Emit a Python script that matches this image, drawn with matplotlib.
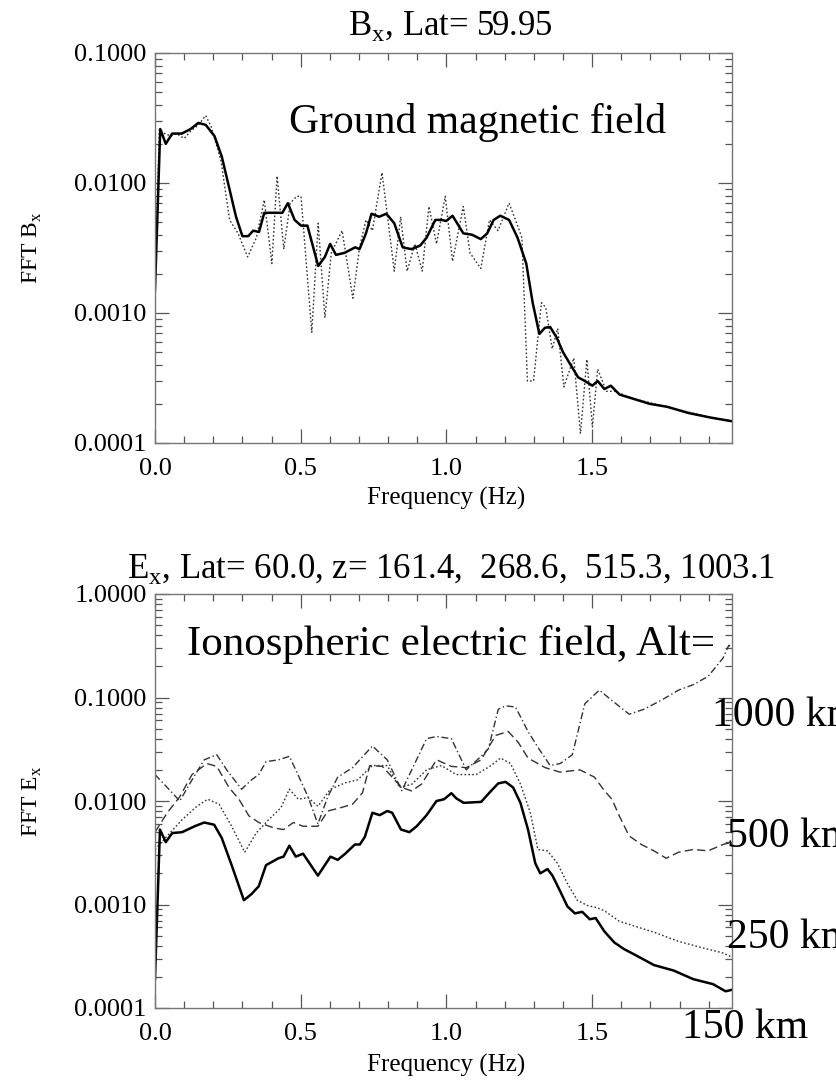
import numpy as np
import matplotlib
matplotlib.use("Agg")
import matplotlib.pyplot as plt
from matplotlib.ticker import FixedLocator, MultipleLocator, LogLocator, NullFormatter, FixedFormatter

plt.rcParams['font.family'] = ['Liberation Serif', 'DejaVu Serif']
plt.rcParams['mathtext.fontset'] = 'custom'
plt.rcParams['mathtext.rm'] = 'Liberation Serif'

# ---------------- ground magnetic field spectrum (B_x) ----------------
bx_freq_solid = [0.000, 0.018, 0.037, 0.059, 0.092, 0.122, 0.149, 0.174, 0.204, 0.229,
                 0.256, 0.278, 0.300, 0.320, 0.337, 0.357, 0.375, 0.404, 0.437, 0.456,
                 0.479, 0.501, 0.523, 0.560, 0.583, 0.601, 0.621, 0.650, 0.687, 0.702,
                 0.724, 0.743, 0.769, 0.794, 0.821, 0.850, 0.880, 0.910, 0.932, 0.962,
                 0.984, 0.999, 1.021, 1.058, 1.088, 1.118, 1.140, 1.162, 1.185, 1.215,
                 1.244, 1.274, 1.296, 1.319, 1.338, 1.356, 1.378, 1.400, 1.423, 1.452,
                 1.475, 1.501, 1.519, 1.542, 1.564, 1.594, 1.638, 1.698, 1.757, 1.831,
                 1.906, 1.980]
bx_fft_solid = [0.0015, 0.026, 0.020, 0.024, 0.024, 0.026, 0.029, 0.028, 0.023, 0.016,
                0.0089, 0.0055, 0.0039, 0.0039, 0.0043, 0.0042, 0.0059, 0.0059, 0.0059, 0.0070,
                0.0052, 0.0047, 0.0047, 0.0023, 0.0027, 0.0034, 0.0028, 0.0029, 0.0032, 0.0031,
                0.0041, 0.0058, 0.0055, 0.0058, 0.0049, 0.0032, 0.0031, 0.0033, 0.0038, 0.0052,
                0.0052, 0.0051, 0.0056, 0.0041, 0.0040, 0.0037, 0.0041, 0.0052, 0.0056, 0.0052,
                0.0038, 0.0024, 0.0012, 0.00069, 0.00077, 0.00078, 0.00065, 0.00050, 0.00041, 0.00032,
                0.00030, 0.000276, 0.00030, 0.00026, 0.000276, 0.000236, 0.00022, 0.00020, 0.00019, 0.00017,
                0.000157, 0.000147]

bx_freq_dot = [0.000, 0.015, 0.033, 0.055, 0.074, 0.100, 0.122, 0.149, 0.174, 0.193,
               0.226, 0.256, 0.285, 0.318, 0.348, 0.375, 0.401, 0.419, 0.442, 0.464,
               0.486, 0.501, 0.538, 0.560, 0.583, 0.605, 0.642, 0.679, 0.702, 0.724,
               0.746, 0.779, 0.798, 0.821, 0.843, 0.865, 0.892, 0.917, 0.940, 0.966,
               0.996, 1.021, 1.058, 1.081, 1.118, 1.148, 1.177, 1.215, 1.237, 1.259,
               1.278, 1.299, 1.326, 1.341, 1.363, 1.382, 1.403, 1.437, 1.460, 1.482,
               1.501, 1.519, 1.549, 1.579, 1.638, 1.757, 1.906, 1.980]
bx_fft_dot = [0.0015, 0.026, 0.024, 0.023, 0.024, 0.022, 0.025, 0.028, 0.033, 0.027,
              0.015, 0.0052, 0.0041, 0.0027, 0.0038, 0.0074, 0.0024, 0.0113, 0.0031, 0.0070,
              0.0079, 0.0079, 0.00071, 0.0049, 0.00092, 0.0029, 0.0043, 0.0013, 0.0032, 0.0052,
              0.0043, 0.012, 0.0055, 0.0021, 0.0055, 0.0021, 0.0034, 0.0021, 0.0066, 0.0034,
              0.0079, 0.0025, 0.0066, 0.0029, 0.0022, 0.0052, 0.0043, 0.0070, 0.0052, 0.0038,
              0.00030, 0.00030, 0.0012, 0.0011, 0.00053, 0.00076, 0.00027, 0.00045, 0.000118, 0.00044,
              0.000133, 0.00037, 0.00025, 0.00025, 0.00022, 0.00019, 0.000157, 0.000147]

# ---------------- ionospheric electric field spectra (E_x) ----------------
ex150_freq = [0.000, 0.017, 0.037, 0.059, 0.093, 0.136, 0.169, 0.203, 0.229, 0.263,
              0.305, 0.331, 0.356, 0.381, 0.424, 0.441, 0.461, 0.483, 0.508, 0.559,
              0.602, 0.627, 0.653, 0.686, 0.703, 0.720, 0.746, 0.771, 0.797, 0.814,
              0.844, 0.873, 0.898, 0.932, 0.966, 0.992, 1.017, 1.034, 1.059, 1.119,
              1.153, 1.178, 1.203, 1.229, 1.254, 1.280, 1.305, 1.322, 1.347, 1.364,
              1.390, 1.415, 1.441, 1.466, 1.492, 1.512, 1.542, 1.576, 1.610, 1.644,
              1.712, 1.780, 1.847, 1.915, 1.958, 1.980]
ex150_fft = [0.00019, 0.0053, 0.0040, 0.0049, 0.0050, 0.0057, 0.0062, 0.0059, 0.0044, 0.0024,
             0.0011, 0.00126, 0.0015, 0.0024, 0.0028, 0.0029, 0.0037, 0.0029, 0.0031, 0.0019,
             0.0029, 0.0027, 0.0031, 0.0038, 0.0038, 0.0045, 0.0077, 0.0073, 0.0080, 0.0077,
             0.0053, 0.0050, 0.0057, 0.0073, 0.0100, 0.0104, 0.0119, 0.0106, 0.0096, 0.0098,
             0.0125, 0.0148, 0.0153, 0.0135, 0.0096, 0.0053, 0.0025, 0.0020, 0.0022, 0.0019,
             0.00135, 0.00096, 0.00082, 0.00085, 0.00072, 0.00074, 0.00055, 0.00043, 0.00037, 0.00033,
             0.00026, 0.00023, 0.00019, 0.00017, 0.000145, 0.00015]

ex250_freq = [0.000, 0.042, 0.093, 0.144, 0.181, 0.220, 0.263, 0.308, 0.347, 0.390,
              0.432, 0.461, 0.492, 0.525, 0.559, 0.602, 0.653, 0.695, 0.746, 0.797,
              0.839, 0.881, 0.932, 0.983, 1.034, 1.102, 1.153, 1.186, 1.220, 1.254,
              1.288, 1.314, 1.347, 1.381, 1.415, 1.449, 1.483, 1.517, 1.542, 1.593,
              1.644, 1.712, 1.797, 1.881, 1.949, 1.980]
ex250_fft = [0.0034, 0.0046, 0.0066, 0.0089, 0.0104, 0.0093, 0.0057, 0.0032, 0.0049, 0.0066,
             0.0086, 0.0130, 0.0104, 0.0108, 0.0089, 0.0130, 0.0150, 0.0160, 0.0220, 0.0220,
             0.0135, 0.0145, 0.0200, 0.0220, 0.0180, 0.0180, 0.0220, 0.0260, 0.0230, 0.0146,
             0.0077, 0.0034, 0.0033, 0.0025, 0.0016, 0.0011, 0.00098, 0.00093, 0.00087, 0.00069,
             0.00062, 0.00054, 0.00044, 0.00038, 0.00034, 0.00031]

ex500_freq = [0.000, 0.042, 0.085, 0.127, 0.178, 0.212, 0.254, 0.288, 0.322, 0.356,
              0.407, 0.441, 0.475, 0.508, 0.559, 0.593, 0.636, 0.678, 0.712, 0.737,
              0.780, 0.814, 0.847, 0.881, 0.915, 0.966, 1.017, 1.068, 1.119, 1.169,
              1.212, 1.246, 1.280, 1.339, 1.390, 1.458, 1.508, 1.542, 1.568, 1.593,
              1.627, 1.669, 1.712, 1.754, 1.797, 1.847, 1.898, 1.949, 1.980]
ex500_fft = [0.0050, 0.0077, 0.0110, 0.0180, 0.0230, 0.0216, 0.0135, 0.0104, 0.0072, 0.0062,
             0.0055, 0.0053, 0.0062, 0.0057, 0.0057, 0.0080, 0.0086, 0.0093, 0.0120, 0.0220,
             0.0216, 0.0170, 0.0135, 0.0125, 0.0146, 0.0250, 0.0216, 0.0210, 0.0250, 0.0430,
             0.0470, 0.0370, 0.0260, 0.0210, 0.0190, 0.0200, 0.0170, 0.0126, 0.0104, 0.0072,
             0.0046, 0.0038, 0.0033, 0.0028, 0.0032, 0.0034, 0.0033, 0.0038, 0.0040]

ex1000_freq = [0.000, 0.042, 0.085, 0.127, 0.169, 0.212, 0.246, 0.297, 0.331, 0.356,
               0.381, 0.424, 0.461, 0.483, 0.525, 0.559, 0.593, 0.627, 0.678, 0.746,
               0.797, 0.847, 0.881, 0.932, 0.966, 1.017, 1.068, 1.119, 1.144, 1.178,
               1.203, 1.237, 1.280, 1.314, 1.356, 1.390, 1.432, 1.475, 1.525, 1.559,
               1.627, 1.678, 1.737, 1.797, 1.847, 1.898, 1.949, 1.969, 1.980]
ex1000_fft = [0.018, 0.0135, 0.0100, 0.016, 0.025, 0.028, 0.020, 0.013, 0.016, 0.018,
              0.024, 0.025, 0.027, 0.020, 0.011, 0.0060, 0.011, 0.017, 0.021, 0.034,
              0.025, 0.0126, 0.020, 0.040, 0.042, 0.040, 0.020, 0.027, 0.032, 0.077,
              0.083, 0.081, 0.047, 0.033, 0.022, 0.023, 0.028, 0.087, 0.118, 0.098,
              0.069, 0.077, 0.094, 0.118, 0.133, 0.160, 0.240, 0.320, 0.300]

x_major = [0.0, 0.5, 1.0, 1.5]
x_major_labels = ['0.0', '0.5', '1.0', '1.5']
f_max = 1.98

W, H = 836, 1081
fig = plt.figure(figsize=(W / 100, H / 100), dpi=100)


def px_axes(x0, y0, x1, y1):
    return fig.add_axes([x0 / W, 1 - y1 / H, (x1 - x0) / W, (y1 - y0) / H])


def fig_text(x, y, s, **kw):
    fig.text(x / W, 1 - y / H, s, **kw)


def style_axes(ax, ymin, ymax, ylabels):
    ax.set_xlim(0, f_max)
    ax.set_yscale('log')
    ax.set_ylim(ymin, ymax)
    ax.xaxis.set_major_locator(FixedLocator(x_major))
    ax.xaxis.set_major_formatter(FixedFormatter(x_major_labels))
    ax.xaxis.set_minor_locator(MultipleLocator(0.1))
    decades = [10.0 ** k for k in range(int(np.log10(ymin)), int(np.log10(ymax)) + 1)]
    ax.yaxis.set_major_locator(FixedLocator(decades))
    ax.yaxis.set_major_formatter(FixedFormatter(ylabels))
    ax.yaxis.set_minor_locator(LogLocator(base=10, subs=np.arange(2, 10)))
    ax.yaxis.set_minor_formatter(NullFormatter())
    ax.tick_params(which='both', direction='in', top=True, right=True,
                   color='#555555', width=0.9, labelsize=19, labelcolor='black')
    ax.tick_params(which='major', length=10)
    ax.tick_params(which='minor', length=5)
    ax.tick_params(axis='x', pad=11)
    ax.tick_params(axis='y', pad=6)
    for sp in ax.spines.values():
        sp.set_color('#777777')
        sp.set_linewidth(1.0)


# ---- top panel ----
ax1 = px_axes(155, 53, 732, 443)
ax1.plot(bx_freq_dot, bx_fft_dot, color='#333333', lw=1.0, ls=(0, (1.2, 1.6)))
ax1.plot(bx_freq_solid, bx_fft_solid, color='black', lw=1.8)
style_axes(ax1, 1e-4, 1e-1, ['0.0001', '0.0010', '0.0100', '0.1000'])

fig_text(450, 35, r'B$_{\mathregular{x}}$, Lat= 59.95', fontsize=25, ha='center', va='baseline')
fig_text(446, 505, 'Frequency (Hz)', fontsize=18, ha='center', va='baseline')
fig_text(32, 248, r'FFT B$_{\mathregular{x}}$', fontsize=17, ha='center', va='center', rotation=90)
fig_text(289, 133, 'Ground magnetic field', fontsize=30, ha='left', va='baseline')

# ---- bottom panel ----
ax2 = px_axes(155, 594, 732, 1008)
ax2.plot(ex1000_freq, ex1000_fft, color='#333333', lw=1.0, ls=(0, (5, 2, 1, 2)))
ax2.plot(ex500_freq, ex500_fft, color='#333333', lw=1.0, ls=(0, (6, 3)))
ax2.plot(ex250_freq, ex250_fft, color='#333333', lw=1.0, ls=(0, (1.2, 1.6)))
ax2.plot(ex150_freq, ex150_fft, color='black', lw=1.8)
style_axes(ax2, 1e-4, 1.0, ['0.0001', '0.0010', '0.0100', '0.1000', '1.0000'])

fig_text(451, 578, r'E$_{\mathregular{x}}$, Lat= 60.0, z= 161.4,  268.6,  515.3, 1003.1',
         fontsize=25, ha='center', va='baseline')
fig_text(446, 1072, 'Frequency (Hz)', fontsize=18, ha='center', va='baseline')
fig_text(32, 801, r'FFT E$_{\mathregular{x}}$', fontsize=17, ha='center', va='center', rotation=90)
fig_text(187, 655, 'Ionospheric electric field, Alt=', fontsize=31, ha='left', va='baseline')

# altitude tags run off the right edge of the page
alt_labels = ['1000 km', '500 km', '250 km', '150 km']
alt_pos = [(712, 726), (727, 847), (727, 948), (682, 1038)]
for lab, (x, y) in zip(alt_labels, alt_pos):
    fig_text(x, y, lab, fontsize=30, ha='left', va='baseline')

fig.savefig('out.png', dpi=100)
